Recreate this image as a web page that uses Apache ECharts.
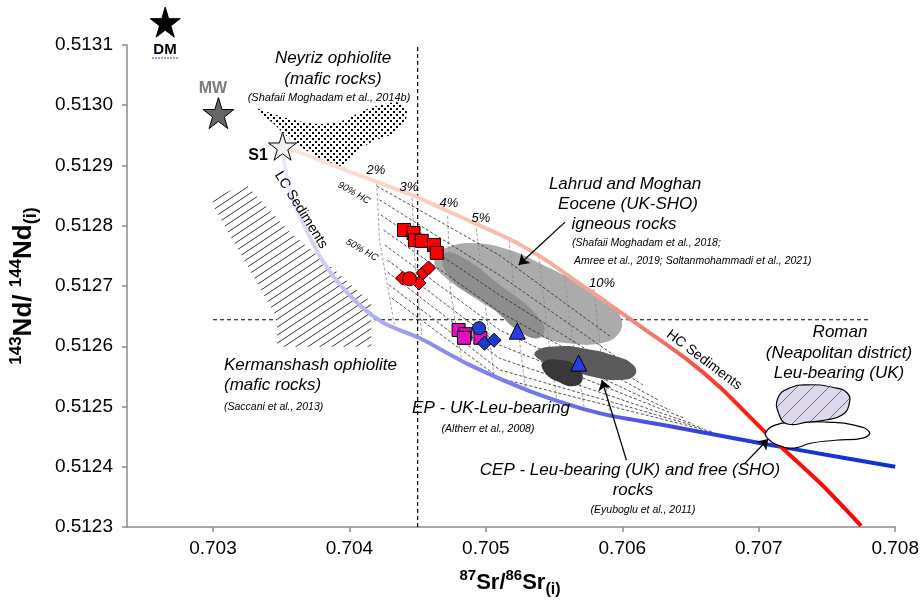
<!DOCTYPE html>
<html>
<head>
<meta charset="utf-8">
<script src="https://cdn.jsdelivr.net/npm/echarts@6/dist/echarts.min.js"></script>
<style>
  html, body { margin: 0; padding: 0; background: #fff; }
  #chart { width: 922px; height: 602px; }
</style>
</head>
<body>
<div id="chart"></div>
<script>
// ---- axis ticks ----
const xTicks = [0.703, 0.704, 0.705, 0.706, 0.707, 0.708];

// ---- end members ----
const dmPoint = [[0.70265, 0.513138]];
const mwPoint = [[0.70304, 0.512987]];
const s1Point = [[0.70351, 0.512932]];

// ---- mixing curves from S1 ----
const hcSediments = [
  [0.70353, 0.512931], [0.70378, 0.512909], [0.70422, 0.512871], [0.70451, 0.512846],
  [0.70490, 0.512806], [0.70519, 0.512776], [0.70544, 0.512743], [0.70568, 0.512705],
  [0.70592, 0.512667], [0.70619, 0.512624], [0.70648, 0.512577], [0.70672, 0.512531],
  [0.70704, 0.512459], [0.70745, 0.512373], [0.70775, 0.512302]
];
const lcSediments = [
  [0.70351, 0.512926], [0.70356, 0.512859], [0.70364, 0.512814], [0.70380, 0.512743],
  [0.70400, 0.512685], [0.70424, 0.512640], [0.70451, 0.512614], [0.70488, 0.512569],
  [0.70534, 0.512524], [0.70583, 0.512489], [0.70631, 0.512469], [0.70680, 0.512448],
  [0.70729, 0.512428], [0.70800, 0.512400]
];

// %HC mixing lines (black dashed)
const mixingLines = [
  [[0.70420, 0.512866], [0.70510, 0.512751], [0.70592, 0.512615]],
  [[0.70422, 0.512843], [0.70510, 0.512718], [0.70604, 0.512569]],
  [[0.70423, 0.512818], [0.70510, 0.512685], [0.70615, 0.512536]],
  [[0.70425, 0.512793], [0.70510, 0.512657], [0.70626, 0.512511]],
  [[0.70426, 0.512768], [0.70510, 0.512627], [0.70635, 0.512494]],
  [[0.70428, 0.512743], [0.70510, 0.512602], [0.70645, 0.512481]],
  [[0.70428, 0.512723], [0.70510, 0.512580], [0.70652, 0.512471]],
  [[0.70429, 0.512702], [0.70510, 0.512561], [0.70659, 0.512464]],
  [[0.70431, 0.512680], [0.70510, 0.512547], [0.70666, 0.512458]]
];
// % sediment tie lines (grey dashed): 2,3,4,5,6,7,8,10 %
const tieLines = [
  [[0.70420, 0.512871], [0.70422, 0.512776], [0.70433, 0.512635]],
  [[0.70446, 0.512846], [0.70448, 0.512743], [0.70453, 0.512619]],
  [[0.70472, 0.512816], [0.70474, 0.512693], [0.70482, 0.512580]],
  [[0.70493, 0.512796], [0.70499, 0.512677], [0.70506, 0.512552]],
  [[0.70517, 0.512776], [0.70522, 0.512660], [0.70529, 0.512527]],
  [[0.70539, 0.512750], [0.70545, 0.512627], [0.70552, 0.512511]],
  [[0.70557, 0.512726], [0.70564, 0.512602], [0.70572, 0.512499]],
  [[0.70579, 0.512695], [0.70584, 0.512594], [0.70591, 0.512486]]
];

// reference dashed lines
const refLines = [
  [[0.70300, 0.512644], [0.70781, 0.512644]],
  [[0.70450, 0.512300], [0.70450, 0.513100]]
];

// ---- fields ----
const neyriz = [
  [0.70332, 0.512994], [0.70345, 0.512985], [0.70360, 0.512975], [0.70378, 0.512969],
  [0.70396, 0.512975], [0.70411, 0.512992], [0.70426, 0.513002], [0.70437, 0.513004],
  [0.70442, 0.512992], [0.70440, 0.512969], [0.70431, 0.512952], [0.70418, 0.512941],
  [0.70407, 0.512926], [0.70399, 0.512909], [0.70393, 0.512899], [0.70382, 0.512907],
  [0.70367, 0.512927], [0.70355, 0.512947], [0.70343, 0.512972]
];
const kermanshah = [
  [0.70300, 0.512846], [0.70324, 0.512869], [0.70356, 0.512790], [0.70385, 0.512735],
  [0.70416, 0.512672], [0.70416, 0.512599], [0.70347, 0.512599], [0.70347, 0.512647],
  [0.70300, 0.512834]
];
const lahrud = [
  [0.70464, 0.512751], [0.70474, 0.512766], [0.70493, 0.512771], [0.70517, 0.512760],
  [0.70542, 0.512735], [0.70568, 0.512705], [0.70588, 0.512677], [0.70599, 0.512647],
  [0.70597, 0.512620], [0.70584, 0.512605], [0.70564, 0.512604], [0.70542, 0.512614],
  [0.70523, 0.512637], [0.70504, 0.512663], [0.70485, 0.512690], [0.70471, 0.512713],
  [0.70463, 0.512733]
];
const lahrudCore = [
  [0.70469, 0.512751], [0.70480, 0.512751], [0.70510, 0.512702], [0.70539, 0.512647],
  [0.70542, 0.512619], [0.70530, 0.512617], [0.70502, 0.512668], [0.70474, 0.512713]
];
const cepOuter = [
  [0.70536, 0.512590], [0.70553, 0.512600], [0.70575, 0.512595], [0.70593, 0.512585],
  [0.70608, 0.512569], [0.70609, 0.512552], [0.70597, 0.512544], [0.70579, 0.512549],
  [0.70561, 0.512561], [0.70542, 0.512574]
];
const cepInner = [
  [0.70542, 0.512574], [0.70555, 0.512577], [0.70566, 0.512567], [0.70571, 0.512547],
  [0.70565, 0.512534], [0.70553, 0.512541], [0.70543, 0.512557]
];
const romanLeu = [
  [0.70714, 0.512514], [0.70723, 0.512531], [0.70736, 0.512536], [0.70754, 0.512532],
  [0.70765, 0.512522], [0.70766, 0.512502], [0.70761, 0.512486], [0.70750, 0.512478],
  [0.70736, 0.512474], [0.70721, 0.512471], [0.70715, 0.512486]
];
const romanShoshonitic = [
  [0.70705, 0.512456], [0.70712, 0.512469], [0.70726, 0.512474], [0.70750, 0.512474],
  [0.70770, 0.512469], [0.70781, 0.512458], [0.70777, 0.512448], [0.70756, 0.512444],
  [0.70738, 0.512439], [0.70726, 0.512431], [0.70714, 0.512436], [0.70707, 0.512446]
];

// ---- samples ----
const redSquares = [
  [0.70440, 0.512793], [0.70447, 0.512788], [0.70448, 0.512776], [0.70453, 0.512775],
  [0.70462, 0.512768], [0.70464, 0.512755]
];
const redDiamonds = [[0.70439, 0.512713], [0.70451, 0.512705], [0.70454, 0.512722], [0.70458, 0.512730]];
const redCircles = [[0.70444, 0.512712]];
const magentaSquares = [[0.70480, 0.512627], [0.70485, 0.512620], [0.70484, 0.512614], [0.70496, 0.512614]];
const blueCircles = [[0.70495, 0.512630]];
const blueDiamonds = [[0.70499, 0.512605], [0.70506, 0.512610]];
const blueTriangles = [[0.70523, 0.512625], [0.70568, 0.512572]];

// ---- arrows (tail -> head) ----
const arrows = [
  [[0.70558, 0.512806], [0.70524, 0.512735]],
  [[0.70603, 0.512411], [0.70585, 0.512544]],
  [[0.70690, 0.512406], [0.70707, 0.512446]]
];

const FONT = '"Liberation Sans", Arial, sans-serif';
const STAR = 'path://M50,0 L61,35 L98,35 L68,57 L79,91 L50,70 L21,91 L32,57 L2,35 L39,35 Z';

function pattern(w, h, draw) {
  const c = document.createElement('canvas');
  c.width = w; c.height = h;
  draw(c.getContext('2d'), w, h);
  return { image: c, repeat: 'repeat' };
}
const dotFill = pattern(6, 6, (ctx, w, h) => {
  ctx.fillStyle = '#fff'; ctx.fillRect(0, 0, w, h);
  ctx.fillStyle = '#000'; ctx.fillRect(0, 0, 2, 2); ctx.fillRect(3, 3, 2, 2);
});
function hatch(w, h, bg, stroke, lw) {
  return pattern(w, h, (ctx) => {
    ctx.fillStyle = bg; ctx.fillRect(0, 0, w, h);
    ctx.strokeStyle = stroke; ctx.lineWidth = lw;
    ctx.beginPath();
    ctx.moveTo(-w, 2 * h); ctx.lineTo(2 * w, -h);
    ctx.moveTo(-2 * w, 2 * h); ctx.lineTo(w, -h);
    ctx.moveTo(0, 2 * h); ctx.lineTo(3 * w, -h);
    ctx.stroke();
  });
}
const kermanFill = hatch(12, 8, '#fff', '#333', 1);
const romanFill = hatch(16, 16, '#ddd8ec', '#444', 0.7);

function field(points, style, z, smooth) {
  return {
    type: 'custom', coordinateSystem: 'cartesian2d', data: points, z: z, silent: true,
    renderItem: (params, api) => params.dataIndex !== 0 ? null : {
      type: 'polygon',
      shape: { points: points.map(p => api.coord(p)), smooth: smooth },
      style: style
    }
  };
}
function dashed(lines, color, width, dash, z) {
  return {
    type: 'lines', coordinateSystem: 'cartesian2d', polyline: true, silent: true, z: z,
    data: lines.map(c => ({ coords: c })),
    lineStyle: { color: color, width: width, type: dash, opacity: 1 }
  };
}
function marks(data, symbol, size, color, z) {
  return {
    type: 'scatter', data: data, symbol: symbol, symbolSize: size, z: z,
    itemStyle: { color: color, borderColor: '#000', borderWidth: 1, opacity: 1 }
  };
}

// ---- free text annotations: [text, x, y, size, style, weight, color, align, rotateDeg] ----
const notes = [
  ['Neyriz ophiolite', 333, 58, 17, 'italic'],
  ['(mafic rocks)', 333, 79, 17, 'italic'],
  ['(Shafaii Moghadam et al., 2014b)', 329, 98, 11, 'italic'],
  ['MW', 213, 89, 16, 'normal', 'bold', '#7a7a7a'],
  ['DM', 165, 50, 15, 'normal', 'bold'],
  ['S1', 258, 156, 16, 'normal', 'bold'],
  ['LC Sediments', 301, 210, 14, 'normal', 'normal', '#000', 'center', -58],
  ['HC Sediments', 704, 360, 14, 'normal', 'normal', '#000', 'center', -37],
  ['90% HC', 354, 193, 9.5, 'italic', 'normal', '#000', 'center', -30],
  ['50% HC', 362, 250, 9.5, 'italic', 'normal', '#000', 'center', -30],
  ['2%', 376, 170, 13, 'italic'],
  ['3%', 409, 187, 13, 'italic'],
  ['4%', 449, 203, 13, 'italic'],
  ['5%', 481, 218, 13, 'italic'],
  ['10%', 602, 283, 13, 'italic'],
  ['Lahrud and Moghan', 625, 184, 17, 'italic'],
  ['Eocene (UK-SHO)', 628, 204, 17, 'italic'],
  ['igneous rocks', 624, 224, 17, 'italic'],
  ['(Shafaii Moghadam et al., 2018;', 572, 243, 10.5, 'italic', 'normal', '#000', 'left'],
  ['Amree et al., 2019; Soltanmohammadi et al., 2021)', 574, 261, 10.5, 'italic', 'normal', '#000', 'left'],
  ['Kermanshash ophiolite', 224, 365, 17, 'italic', 'normal', '#000', 'left'],
  ['(mafic rocks)', 224, 385, 17, 'italic', 'normal', '#000', 'left'],
  ['(Saccani et al., 2013)', 224, 407, 10.5, 'italic', 'normal', '#000', 'left'],
  ['EP - UK-Leu-bearing', 491, 408, 17, 'italic'],
  ['(Altherr et al., 2008)', 488, 429, 10.5, 'italic'],
  ['CEP - Leu-bearing (UK) and free (SHO)', 630, 470, 17, 'italic'],
  ['rocks', 633, 490, 17, 'italic'],
  ['(Eyuboglu et al., 2011)', 643, 510, 10.5, 'italic'],
  ['Roman', 840, 332, 17, 'italic'],
  ['(Neapolitan district)', 839, 353, 17, 'italic'],
  ['Leu-bearing (UK)', 839, 373, 17, 'italic']
];

const graphics = notes.map(n => ({
  type: 'text', x: n[1], y: n[2], z: 100, silent: true,
  rotation: (n[8] || 0) * Math.PI / 180,
  style: {
    text: n[0], fontSize: n[3], fontStyle: n[4] || 'normal', fontWeight: n[5] || 'normal',
    fontFamily: FONT, fill: n[6] || '#000', align: n[7] || 'center', verticalAlign: 'middle'
  }
}));
graphics.push({
  type: 'line', z: 100, silent: true,
  shape: { x1: 152, y1: 58, x2: 179, y2: 58 },
  style: { stroke: '#2a3fd0', lineWidth: 1.2, lineDash: [2, 1] }
});
function titleRich(big, small) {
  return {
    b: { fontSize: big, fontWeight: 'bold', fontFamily: FONT, lineHeight: big + 7, verticalAlign: 'middle' },
    sup: { fontSize: small, fontWeight: 'bold', fontFamily: FONT, lineHeight: small, verticalAlign: 'top' },
    sub: { fontSize: small + 1, fontWeight: 'bold', fontFamily: FONT, lineHeight: small + 1, verticalAlign: 'bottom' }
  };
}
graphics.push({
  type: 'text', x: 510, y: 583, z: 100, silent: true,
  style: { text: '{sup|87}{b|Sr/}{sup|86}{b|Sr}{sub|(i)}', rich: titleRich(22, 15), align: 'center', verticalAlign: 'middle' }
});
graphics.push({
  type: 'text', x: 24, y: 286, z: 100, silent: true, rotation: Math.PI / 2,
  style: { text: '{sup|143}{b|Nd/ }{sup|144}{b|Nd}{sub|(i)}', rich: titleRich(26, 17), align: 'center', verticalAlign: 'middle' }
});

const chart = echarts.init(document.getElementById('chart'));

chart.setOption({
  animation: false,
  backgroundColor: '#fff',
  grid: { left: 127, right: 24, top: 45, bottom: 75 },
  xAxis: {
    type: 'value', min: 0.70237, max: 0.708,
    axisLine: { show: true, onZero: false, lineStyle: { color: '#8c8c8c', width: 1.5 } },
    axisTick: { show: true, length: 5, customValues: xTicks, lineStyle: { color: '#8c8c8c', width: 1.5 } },
    axisLabel: {
      customValues: xTicks, margin: 12, color: '#000', fontSize: 19, fontFamily: FONT,
      formatter: v => v.toFixed(3)
    },
    splitLine: { show: false }
  },
  yAxis: {
    type: 'value', min: 0.5123, max: 0.5131, interval: 0.0001,
    axisLine: { show: true, onZero: false, lineStyle: { color: '#8c8c8c', width: 1.5 } },
    axisTick: { show: true, length: 5, lineStyle: { color: '#8c8c8c', width: 1.5 } },
    axisLabel: { margin: 14, color: '#000', fontSize: 19, fontFamily: FONT, formatter: v => v.toFixed(4) },
    splitLine: { show: false }
  },
  graphic: { elements: graphics },
  series: [
    dashed(refLines, '#000', 1.2, [4, 3], 1),
    field(kermanshah, { fill: kermanFill }, 2, 0),
    field(neyriz, { fill: dotFill }, 2, 0.35),
    field(lahrud, { fill: '#ababab' }, 2, 0.45),
    field(lahrudCore, { fill: '#8e8e8e' }, 2, 0.5),
    dashed(tieLines, '#8a8a8a', 0.8, [3, 2], 3),
    dashed(mixingLines, '#222', 0.8, [3, 2], 3),
    field(cepOuter, { fill: '#5a5a5a' }, 4, 0.5),
    field(cepInner, { fill: '#383838' }, 4, 0.5),
    {
      type: 'line', data: lcSediments, smooth: 0.3, symbol: 'none', z: 5, silent: true,
      lineStyle: {
        width: 4,
        color: { type: 'linear', x: 0, y: 0, x2: 1, y2: 0, colorStops: [
          { offset: 0, color: '#ececfc' }, { offset: 0.12, color: '#b8b8f5' },
          { offset: 0.25, color: '#8c8cf0' }, { offset: 0.45, color: '#6e72ec' },
          { offset: 0.65, color: '#3a46e0' }, { offset: 0.8, color: '#1836d6' },
          { offset: 1, color: '#1030cc' }
        ] }
      }
    },
    {
      type: 'line', data: hcSediments, smooth: 0.2, symbol: 'none', z: 5, silent: true,
      lineStyle: {
        width: 4,
        color: { type: 'linear', x: 0, y: 0, x2: 1, y2: 0, colorStops: [
          { offset: 0, color: '#fce8e2' }, { offset: 0.3, color: '#f9c8b8' },
          { offset: 0.55, color: '#f4a090' }, { offset: 0.7, color: '#f05a50' },
          { offset: 0.8, color: '#ff1a10' }, { offset: 1, color: '#ff0000' }
        ] }
      }
    },
    field(romanShoshonitic, { fill: '#fff', stroke: '#000', lineWidth: 1.2 }, 6, 0.5),
    field(romanLeu, { fill: romanFill, stroke: '#000', lineWidth: 1.2 }, 6, 0.5),
    marks(redSquares, 'rect', 13, '#ff0000', 8),
    marks(redDiamonds, 'diamond', 14, '#ff0000', 8),
    marks(redCircles, 'circle', 14, '#ff0000', 9),
    marks(magentaSquares, 'rect', 13, '#e010c0', 8),
    marks(blueCircles, 'circle', 13, '#1f3fd0', 8),
    marks(blueDiamonds, 'diamond', 14, '#1a3ccc', 9),
    marks(blueTriangles, 'triangle', 16, '#2a3ae8', 8),
    Object.assign(marks(dmPoint, STAR, 30, '#000', 10), { clip: false }),
    Object.assign(marks(mwPoint, STAR, 31, '#666', 10), { clip: false }),
    Object.assign(marks(s1Point, STAR, 28, '#f0f0f0', 10), { clip: false }),
    {
      type: 'lines', coordinateSystem: 'cartesian2d', silent: true, z: 11,
      data: arrows.map(c => ({ coords: c })),
      symbol: ['none', 'arrow'], symbolSize: 10,
      lineStyle: { color: '#000', width: 1.3, opacity: 1 }
    }
  ]
});
</script>
</body>
</html>
